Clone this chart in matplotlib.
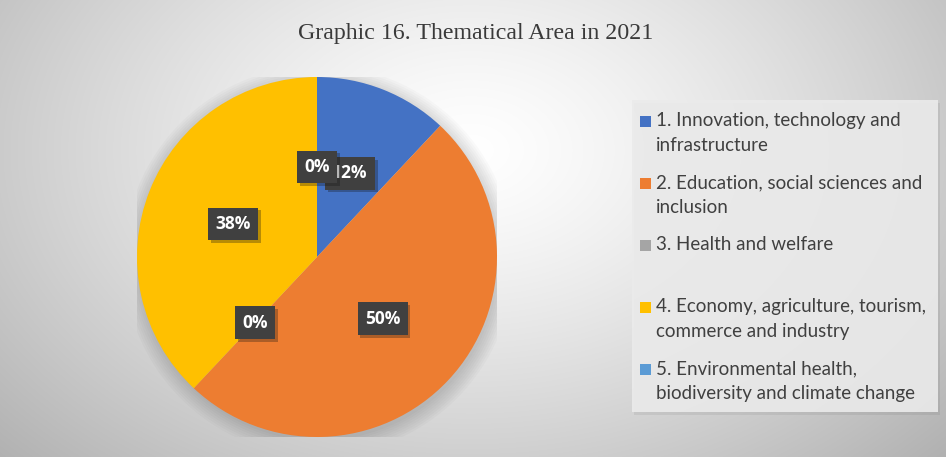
import numpy as np
import matplotlib.pyplot as plt
from matplotlib.patches import Rectangle, Circle
import matplotlib.patheffects as pe

# thematic area shares, 2021 (percent)
areas = [
    "1. Innovation, technology and\ninfrastructure",
    "2. Education, social sciences and\ninclusion",
    "3. Health and welfare",
    "4. Economy, agriculture, tourism,\ncommerce and industry",
    "5. Environmental health,\nbiodiversity and climate change",
]
shares = [12, 50, 0, 38, 0]
colors = ["#4472C4", "#ED7D31", "#A5A5A5", "#FFC000", "#5B9BD5"]
title = "Graphic 16. Thematical Area in 2021"

W, H = 946, 457
fig = plt.figure(figsize=(W / 100, H / 100), dpi=100)

# soft radial background, white near the upper middle, gray towards the edges
bg = fig.add_axes([0, 0, 1, 1])
xx, yy = np.meshgrid(np.arange(W), np.arange(H))
r = np.sqrt(((xx - 470) / 520.0) ** 2 + ((yy - 150) / 360.0) ** 2)
val = 1.0 - 0.23 * np.clip(r, 0, 1.4) ** 1.3
bg.imshow(np.dstack([val, val, val]), extent=[0, W, H, 0], aspect="auto")
bg.set_xlim(0, W)
bg.set_ylim(H, 0)
bg.axis("off")

# title
fig.text(476 / W, 1 - 34 / H, title, ha="center", va="center",
         family="Liberation Serif", fontsize=17.2, color="#3a3a3a")

# pie: centre (317, 257) px, radius 180 px
cx, cy, rad = 317, 257, 180
ax = fig.add_axes([(cx - rad) / W, (H - cy - rad) / H, 2 * rad / W, 2 * rad / H])
for k in range(8):
    ax.add_patch(Circle((0.01, -0.02), 1.0 + 0.012 * k, color="k",
                        alpha=0.018, lw=0, zorder=0))
wedges, _, autotexts = ax.pie(shares, colors=colors, startangle=90,
                              counterclock=False, radius=1.0,
                              autopct=lambda p: f"{p:.0f}%", pctdistance=0.5,
                              wedgeprops=dict(linewidth=0))
for t in autotexts:
    t.set_color("white")
    t.set_fontweight("bold")
    t.set_fontsize(12.5)
    t.set_family("Open Sans")
    t.set_bbox(dict(boxstyle="square,pad=0.42", fc="#404040", ec="none"))
    t.get_bbox_patch().set_path_effects(
        [pe.SimplePatchShadow(offset=(2, -2), alpha=0.3), pe.Normal()])
ax.set_xlim(-1, 1)
ax.set_ylim(-1, 1)
ax.set_aspect("equal")
ax.axis("off")

# legend panel
lx0, ly0, lx1, ly1 = 632, 100, 938, 412
bg.add_patch(Rectangle((lx0 + 2, ly0 + 3), lx1 - lx0, ly1 - ly0,
                       fc="k", alpha=0.06, lw=0))
bg.add_patch(Rectangle((lx0, ly0), lx1 - lx0, ly1 - ly0,
                       fc="#ebebeb", ec="none", alpha=0.9))
slot = 62
for i, (lab, c) in enumerate(zip(areas, colors)):
    ytop = 121 + i * slot
    bg.add_patch(Rectangle((640, ytop - 5.5), 11, 11, fc=c, ec="none"))
    bg.text(656, ytop - 9, lab, ha="left", va="top", family="Lato",
            fontsize=13.5, color="#404040", linespacing=1.55)

fig.savefig("out.png", dpi=100)
